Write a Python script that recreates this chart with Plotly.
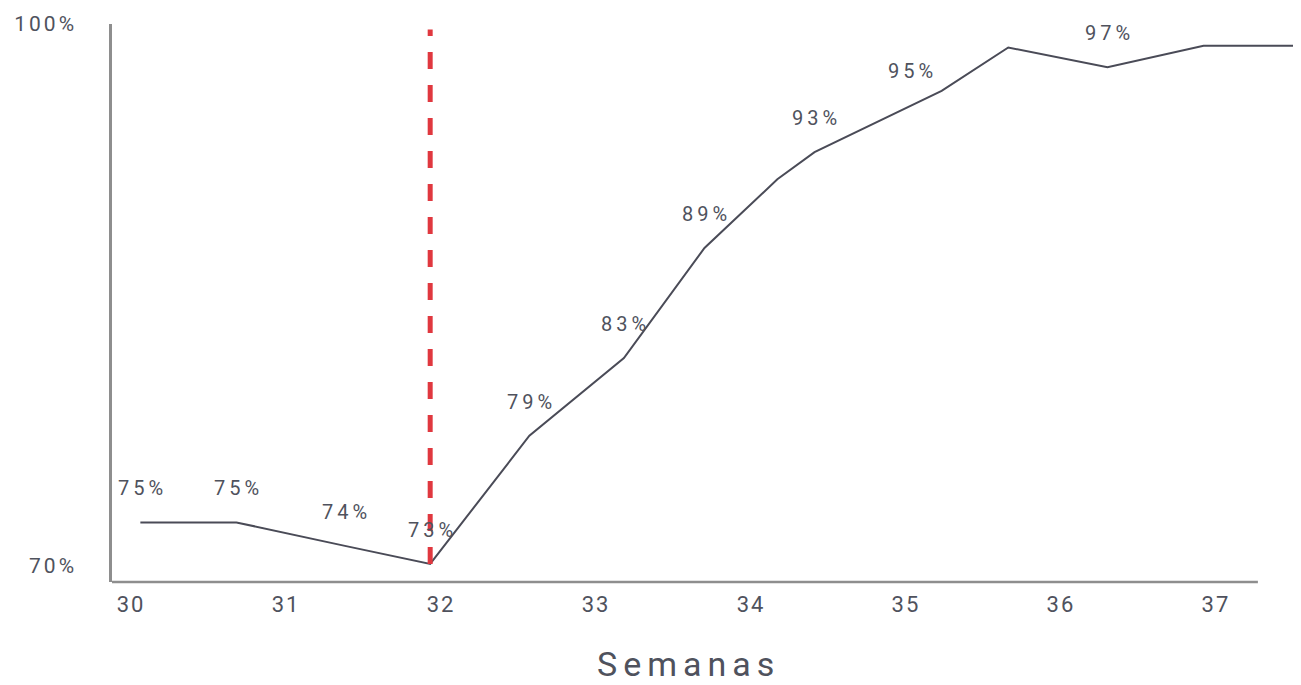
import plotly.graph_objects as go

# Data (weeks vs. percentage)
weeks = [30.06, 30.68, 31.38, 31.93, 32.57, 33.18, 33.70, 34.17, 34.41, 35.03,
         35.23, 35.66, 36.30, 36.92, 37.52]
values = [72.4, 72.4, 71.1, 70.1, 77.2, 81.5, 87.6, 91.4, 92.9, 95.5,
          96.3, 98.7, 97.6, 98.8, 98.8]
labels = ["75%", "75%", "74%", "73%", "79%", "83%", "89%", "", "93%", "95%",
          "", "", "97%", "", ""]

x_ticks = [30, 31, 32, 33, 34, 35, 36, 37]
y_ticks = [70, 100]
y_tick_text = ["70%", "100%"]
x_title = "Semanas"
marker_week_index = 3  # dashed red line at week of the minimum

FONT = "Roboto"
TXT = "#4f525d"
LINE = "#4a4b57"
AXIS = "#8e8e8e"


def spaced(t, px):
    return f'<span style="letter-spacing:{px}px">{t}</span>'


fig = go.Figure()
fig.add_trace(go.Scatter(
    x=weeks, y=values, mode="lines",
    line=dict(color=LINE, width=2), hoverinfo="skip", showlegend=False,
))

for xv, yv, t in zip(weeks, values, labels):
    if t:
        fig.add_annotation(x=xv, y=yv, text=spaced(t, 4), showarrow=False,
                           yanchor="middle", yshift=34, xshift=2,
                           font=dict(family=FONT, size=20, color=TXT))

# red dashed marker line
fig.add_shape(type="line", xref="x", yref="y",
              x0=weeks[marker_week_index], x1=weeks[marker_week_index],
              y0=values[marker_week_index], y1=99.7,
              line=dict(color="#e0383f", width=5, dash="17px,16px"))

# x axis baseline (stops before the end of the data line)
fig.add_shape(type="line", xref="paper", yref="paper",
              x0=0, x1=0.967, y0=0, y1=0,
              line=dict(color=AXIS, width=2.5))

fig.add_annotation(xref="paper", yref="paper", x=0.484, y=0,
                   yanchor="top", yshift=-60, xshift=3, showarrow=False,
                   text=spaced(x_title, 6),
                   font=dict(family=FONT, size=34, color=TXT))

fig.update_layout(
    width=1293, height=677,
    margin=dict(l=104, r=4, t=12, b=103),
    paper_bgcolor="white", plot_bgcolor="white",
    xaxis=dict(range=[29.877, 37.523], tickvals=x_ticks,
               ticktext=[spaced(str(v), 2) for v in x_ticks],
               showgrid=False, zeroline=False, showline=False,
               ticks="", ticklabelstandoff=7,
               tickfont=dict(family=FONT, size=22, color=TXT)),
    yaxis=dict(range=[69.1, 100], tickvals=y_ticks,
               ticktext=[spaced(t, 3) for t in y_tick_text],
               showgrid=False, zeroline=False, showline=True,
               linecolor=AXIS, linewidth=2.5,
               ticks="", ticklabelstandoff=28,
               tickfont=dict(family=FONT, size=21, color=TXT)),
)

fig.write_html("out.html")
